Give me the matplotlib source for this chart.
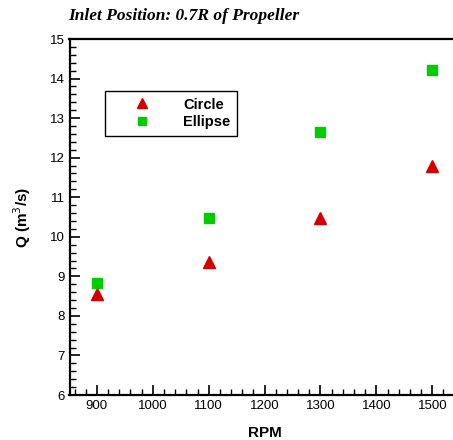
import matplotlib
matplotlib.use("Agg")
import matplotlib.pyplot as plt
from matplotlib.ticker import MultipleLocator

# Data
rpm = [900, 1100, 1300, 1500]
q_circle = [8.55, 9.35, 10.48, 11.80]
q_ellipse = [8.82, 10.48, 12.65, 14.22]

plt.rcParams["font.family"] = ["Liberation Sans", "DejaVu Sans"]

fig = plt.figure(figsize=(4.53, 4.40), dpi=100)
W, H = 453, 440
x0, x1 = 851, 1550
px_per_rpm = 0.559
left_px, top_px, bottom_px = 69.5, 39, 395
# right spine falls outside the figure, as in the reference
ax = fig.add_axes([left_px / W, 1 - bottom_px / H,
                   (x1 - x0) * px_per_rpm / W, (bottom_px - top_px) / H])

ax.plot(rpm, q_circle, linestyle="none", marker="^", markersize=8,
        color="#d40000", markeredgecolor="#d40000", label="Circle")
ax.plot(rpm, q_ellipse, linestyle="none", marker="s", markersize=7,
        color="#00cc00", markeredgecolor="#00cc00", label="Ellipse")

ax.set_xlim(x0, x1)
ax.set_ylim(6, 15)
ax.xaxis.set_major_locator(MultipleLocator(100))
ax.xaxis.set_minor_locator(MultipleLocator(20))
ax.yaxis.set_major_locator(MultipleLocator(1))
ax.yaxis.set_minor_locator(MultipleLocator(0.2))
ax.tick_params(which="both", direction="in", labelsize=9.5, top=False, right=False)
ax.tick_params(which="major", length=7, width=1.2)
ax.tick_params(which="minor", length=4, width=1)
for s in ax.spines.values():
    s.set_linewidth(1.6)

ax.set_xlabel("RPM", fontsize=11, fontweight="bold", labelpad=10)
ax.set_ylabel("Q (m$^3$/s)", fontsize=11, fontweight="bold", labelpad=12)

fig.text(68 / W, 1 - 16 / H, "Inlet Position: 0.7R of Propeller",
         family="Liberation Serif", style="italic", fontweight="bold",
         fontsize=12.5, va="center", ha="left")

leg = ax.legend(loc="upper left", bbox_to_anchor=(105 / W, 1 - 91 / H),
                bbox_transform=fig.transFigure, frameon=True, fancybox=False,
                edgecolor="black", framealpha=1, handlelength=4.2,
                handletextpad=0.7, borderpad=0.45, labelspacing=0.25,
                borderaxespad=0, markerscale=0.85,
                prop={"weight": "bold", "size": 10.5})
leg.get_frame().set_linewidth(1.0)

fig.savefig("out.png", dpi=100)
